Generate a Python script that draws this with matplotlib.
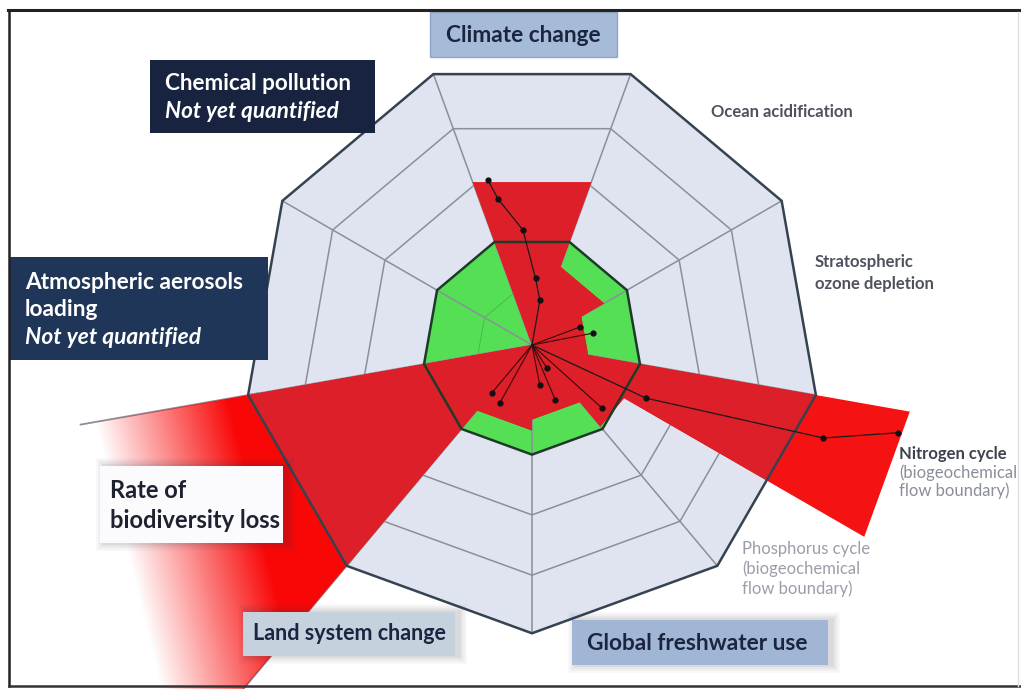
import numpy as np
import matplotlib
matplotlib.use("Agg")
import matplotlib.pyplot as plt
from matplotlib.patches import Polygon, Rectangle
from matplotlib.lines import Line2D

# ---------------- data ----------------
sector_center_deg = [90, 50, 10, -30, -70, -110, -150, 170, 130]
ring_levels = [1.0, 1.55, 2.1, 2.63]          # 1.0 = safe boundary (green)

boundary_names = ["Climate change", "Ocean acidification", "Stratospheric ozone depletion",
                  "Nitrogen cycle", "Phosphorus cycle", "Global freshwater use",
                  "Land system change", "Rate of biodiversity loss"]
boundary_start = [70, 30, -10, -30, -50, -90, -130, -170]
boundary_end = [110, 70, 30, -10, -30, -50, -90, -130]
boundary_value = [1.58, 0.76, 0.52, 3.5, 0.97, 0.68, 0.78, 12.0]

clim_traj_ang = [80, 87, 94.5, 103, 105]
clim_traj_r = [0.44, 0.65, 1.12, 1.45, 1.66]
nitro_traj_ang = [-25, -17.7, -13.5]
nitro_traj_r = [1.22, 2.97, 3.65]
dot_ang = [20.6, 11, -42, -57, -67, -79, -119, -130]
dot_r = [0.5, 0.6, 0.91, 0.27, 0.58, 0.4, 0.64, 0.61]

# ---------------- figure ----------------
W, H = 1021, 689
PX = 103.0
CX, CY = 532, 345
fig = plt.figure(figsize=(W / 100, H / 100), dpi=100)
ax = fig.add_axes([0, 0, 1, 1])
xmin, xmax = -CX / PX, (W - CX) / PX
ymin, ymax = -(H - CY) / PX, CY / PX
ax.set_xlim(xmin, xmax)
ax.set_ylim(ymin, ymax)
ax.set_aspect("equal")
ax.axis("off")

K = 1 / np.cos(np.radians(20))
vert_ang = np.radians(np.array([70 + 40 * i for i in range(9)]))


def ring(v):
    d = v * K
    return np.column_stack([d * np.cos(vert_ang), d * np.sin(vert_ang)])


def wedge(a1, a2, v):
    d = v * K
    a1, a2 = np.radians(a1), np.radians(a2)
    return np.array([[0, 0], [d * np.cos(a1), d * np.sin(a1)], [d * np.cos(a2), d * np.sin(a2)]])


def pol(ang, r):
    a = np.radians(np.asarray(ang, float))
    r = np.asarray(r, float)
    return r * np.cos(a), r * np.sin(a)


LIGHT = "#dfe4f0"
GREEN = "#55df55"
RED_IN = "#dc1f28"
RED_OUT = "#f51212"
GRID = "#8a909a"
EDGE = "#34434f"

outer = ring(ring_levels[-1])
outer_patch = Polygon(outer, closed=True, facecolor=LIGHT, edgecolor="none", zorder=1)
ax.add_patch(outer_patch)

# spoke extensions beyond polygon (biodiversity wedge edges)
x, y = pol([-170, -170], [2.7, 4.45])
ax.plot(x, y, color="#6d7580", lw=1.3, alpha=0.8, zorder=1.5)
x, y = pol([-130, -130], [2.7, 6.0])
ax.plot(x, y, color="#7d8590", lw=1.2, zorder=1.5)

# green safe zone
ax.add_patch(Polygon(ring(1.0), closed=True, facecolor=GREEN, edgecolor="none", zorder=2))

# grid rings and spokes
for v in ring_levels[1:-1]:
    ax.add_patch(Polygon(ring(v), closed=True, facecolor="none", edgecolor=GRID, lw=1.1, zorder=3))
ax.add_patch(Polygon(ring(0.5), closed=True, facecolor="none", edgecolor="#3d8a3d", lw=0.6, alpha=0.5, zorder=3))
for a in vert_ang:
    d = ring_levels[-1] * K
    ax.plot([0, d * np.cos(a)], [0, d * np.sin(a)], color=GRID, lw=1.1, zorder=3)

# red wedges
for name, a1, a2, v in zip(boundary_names, boundary_start, boundary_end, boundary_value):
    pts = wedge(a1, a2, v)
    if name == "Rate of biodiversity loss":
        clip = Polygon(pts, closed=True, facecolor="none", edgecolor="none", transform=ax.transData)
        ax.add_patch(clip)
        nx, ny = 600, 420
        gx, gy = np.meshgrid(np.linspace(xmin, xmax, nx), np.linspace(ymin, ymax, ny))
        s = 0.97 * (gx + 3.61) + 0.24 * (gy + 0.63)
        alpha = np.clip(0.5 + s / 1.3, 0, 1)
        rgba = np.zeros((ny, nx, 4))
        rgba[..., 0] = 0.98
        rgba[..., 1] = 0.03
        rgba[..., 2] = 0.03
        rgba[..., 3] = alpha
        im = ax.imshow(rgba, extent=[xmin, xmax, ymin, ymax], origin="lower",
                       interpolation="bilinear", zorder=4)
        im.set_clip_path(clip)
    else:
        ax.add_patch(Polygon(pts, closed=True, facecolor=RED_OUT, edgecolor="none", zorder=4))
    inner = Polygon(pts, closed=True, facecolor=RED_IN, edgecolor="none", zorder=4.5)
    ax.add_patch(inner)
    inner.set_clip_path(outer_patch)

# polygon edges
ax.add_patch(Polygon(ring(1.0), closed=True, facecolor="none", edgecolor="#1e3a28", lw=1.8, zorder=6))
ax.add_patch(Polygon(outer, closed=True, facecolor="none", edgecolor=EDGE, lw=1.8, zorder=6))

# trajectories
x, y = pol([clim_traj_ang[0]] + clim_traj_ang, [0] + clim_traj_r)
ax.plot(x, y, color="#1a1a1a", lw=0.9, zorder=7)
ax.plot(x[1:], y[1:], "o", color="#111111", ms=3.5, zorder=7)
x, y = pol([nitro_traj_ang[0]] + nitro_traj_ang, [0] + nitro_traj_r)
ax.plot(x, y, color="#1a1a1a", lw=0.9, zorder=7)
ax.plot(x[1:], y[1:], "o", color="#111111", ms=3.5, zorder=7)
for a, r in zip(dot_ang, dot_r):
    x, y = pol([a, a], [0, r])
    ax.plot(x, y, color="#3a0a0a", lw=0.8, zorder=7)
    ax.plot(x[1], y[1], "o", color="#111111", ms=3.5, zorder=7)

# ---------------- frame ----------------
def fx(px):
    return px / W


def fy(py):
    return 1 - py / H


fig.add_artist(Line2D([fx(8), fx(1021)], [fy(10), fy(10)], color="#222222", lw=2.2))
fig.add_artist(Line2D([fx(9), fx(9)], [fy(10), fy(686)], color="#222222", lw=1.8))
fig.add_artist(Line2D([fx(9), fx(1021)], [fy(686), fy(686)], color="#333333", lw=1.8))
fig.add_artist(Line2D([fx(1018), fx(1018)], [fy(12), fy(686)], color="#dedede", lw=1.0))


# ---------------- labels ----------------
def box(x0, y0, x1, y1, fc, shadow=False, ec="none"):
    if shadow:
        for i, al in enumerate([0.06, 0.05, 0.04, 0.03]):
            d = 2 + 2 * i
            fig.add_artist(Rectangle((fx(x0 - d + 4), fy(y1 + d)), (x1 - x0 + 2 * d) / W,
                                     (y1 - y0 + 2 * d) / H, facecolor="#303040", alpha=al,
                                     edgecolor="none"))
    fig.add_artist(Rectangle((fx(x0), fy(y1)), (x1 - x0) / W, (y1 - y0) / H,
                             facecolor=fc, edgecolor=ec, lw=1.0))


FONT = "Lato"
NAVY = "#1a2540"

box(430, 12, 617, 57, "#a6bbd7", ec="#8ea6c6")
fig.text(fx(523), fy(35), "Climate change", fontsize=16.3, fontweight="bold", family=FONT,
         color=NAVY, ha="center", va="center")

box(150, 60, 375, 133, "#17233f")
fig.text(fx(165), fy(83), "Chemical pollution", fontsize=16.2, fontweight="bold", family=FONT,
         color="white", ha="left", va="center")
fig.text(fx(165), fy(111), "Not yet quantified", fontsize=16.2, fontweight="bold", style="italic",
         family=FONT, color="white", ha="left", va="center")

box(10, 257, 268, 360, "#1f3658")
fig.text(fx(25), fy(282), "Atmospheric aerosols", fontsize=16.4, fontweight="bold", family=FONT,
         color="white", ha="left", va="center")
fig.text(fx(25), fy(310), "loading", fontsize=16.4, fontweight="bold", family=FONT,
         color="white", ha="left", va="center")
fig.text(fx(25), fy(338), "Not yet quantified", fontsize=16.4, fontweight="bold", style="italic",
         family=FONT, color="white", ha="left", va="center")

box(100, 466, 283, 543, "#fbfbfd", shadow=True)
fig.text(fx(110), fy(491), "Rate of", fontsize=17, fontweight="bold", family=FONT,
         color="#1e2230", ha="left", va="center")
fig.text(fx(110), fy(520), "biodiversity loss", fontsize=17, fontweight="bold", family=FONT,
         color="#1e2230", ha="left", va="center")

box(243, 612, 455, 656, "#c6d1de", shadow=True)
fig.text(fx(349), fy(634), "Land system change", fontsize=15.5, fontweight="bold", family=FONT,
         color=NAVY, ha="center", va="center")

box(572, 620, 828, 665, "#a0b6d4", shadow=True)
fig.text(fx(697), fy(643), "Global freshwater use", fontsize=16.3, fontweight="bold", family=FONT,
         color=NAVY, ha="center", va="center")

SMALL = dict(family=FONT, fontsize=12, ha="left", va="center")
fig.text(fx(711), fy(112), "Ocean acidification", color="#4e525e", fontweight="bold", **SMALL)
fig.text(fx(815), fy(262), "Stratospheric", color="#4e525e", fontweight="bold", **SMALL)
fig.text(fx(815), fy(284), "ozone depletion", color="#4e525e", fontweight="bold", **SMALL)
fig.text(fx(899), fy(454), "Nitrogen cycle", color="#3e424e", fontweight="bold", **SMALL)
fig.text(fx(899), fy(473), "(biogeochemical", color="#8a8e9a", **SMALL)
fig.text(fx(899), fy(491), "flow boundary)", color="#8a8e9a", **SMALL)
fig.text(fx(742), fy(549), "Phosphorus cycle", color="#9a9ea8", **SMALL)
fig.text(fx(742), fy(569), "(biogeochemical", color="#9a9ea8", **SMALL)
fig.text(fx(742), fy(589), "flow boundary)", color="#9a9ea8", **SMALL)

fig.savefig("out.png", dpi=100)
